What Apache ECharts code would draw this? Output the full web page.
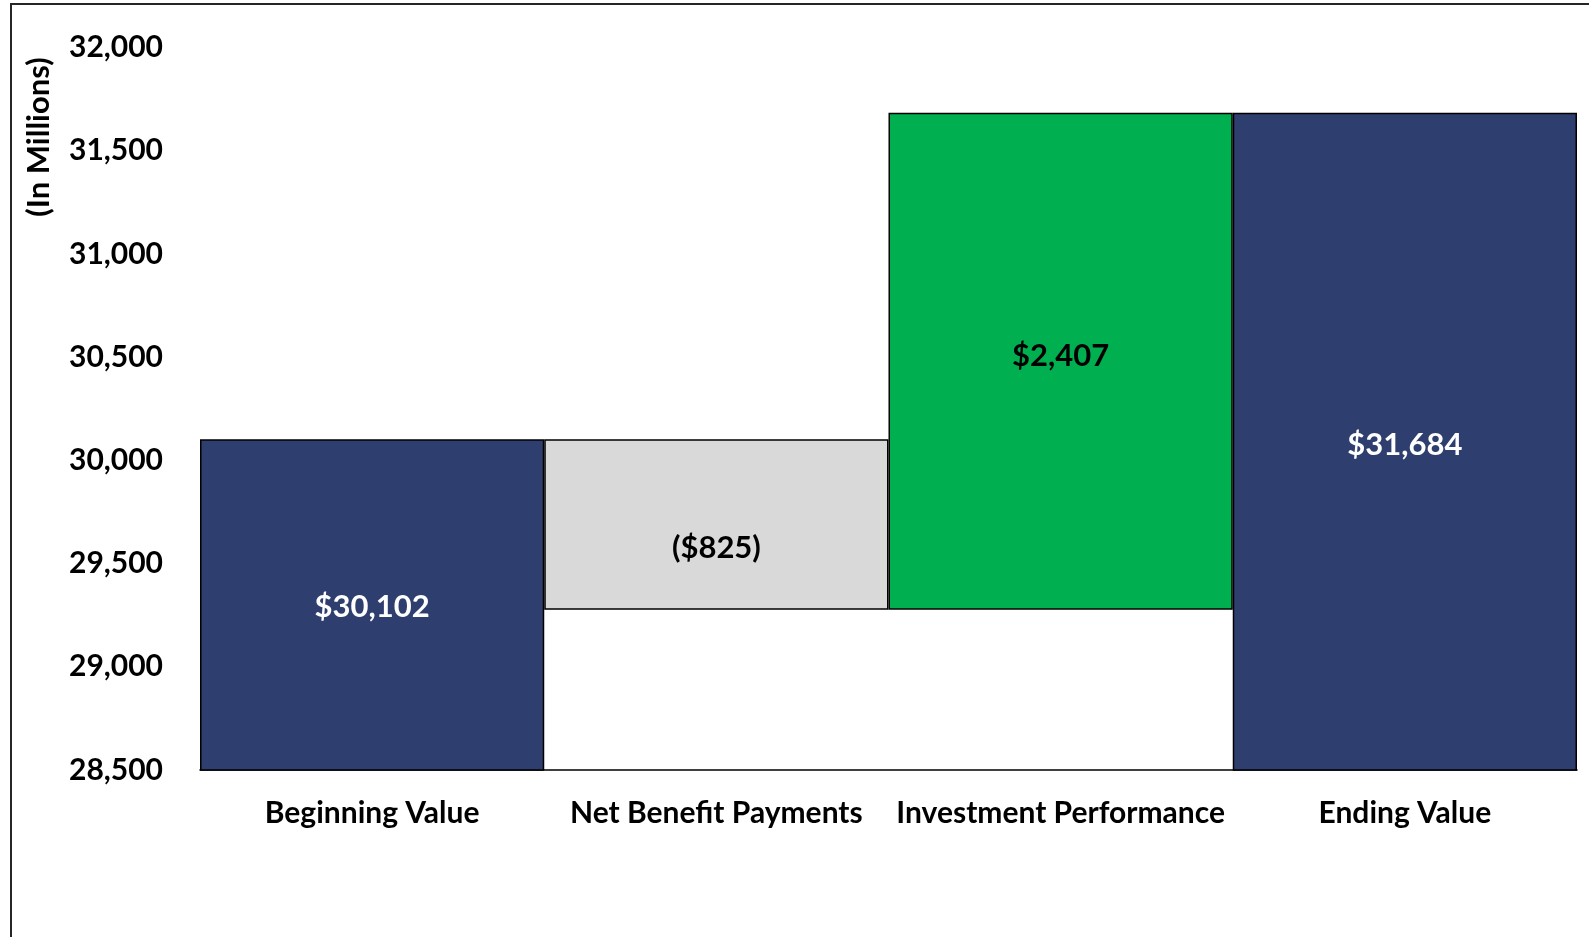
<!DOCTYPE html>
<html>
<head>
<meta charset="utf-8">
<script src="https://cdn.jsdelivr.net/npm/echarts@6/dist/echarts.min.js"></script>
<style>
html,body{margin:0;padding:0;background:#fff;}
#chart{width:1589px;height:937px;}
</style>
</head>
<body>
<div id="chart"></div>
<script>
// ---- data ----
const categories = ['Beginning Value', 'Net Benefit Payments', 'Investment Performance', 'Ending Value'];
const beginningValue = 30102;
const netBenefitPayments = -825;
const investmentPerformance = 2407;
const endingValue = 31684;
const yTicks = [28500, 29000, 29500, 30000, 30500, 31000, 31500, 32000];
const yTitle = '(In Millions)';

// ---- waterfall construction ----
const afterPayments = beginningValue + netBenefitPayments;
const baseData = [0, afterPayments, afterPayments, 0];
const barData = [beginningValue, Math.abs(netBenefitPayments), investmentPerformance, endingValue];
const signedValues = [beginningValue, netBenefitPayments, investmentPerformance, endingValue];

const colors = ['#2E3F6F', '#D9D9D9', '#00B050', '#2E3F6F'];
const labelColors = ['#FFFFFF', '#000000', '#000000', '#FFFFFF'];
const labelOffsets = [[0, 2], [0, 24], [0, -5], [0, 3]];

function fmt(v) {
  const s = '$' + Math.abs(v).toLocaleString('en-US');
  return v < 0 ? '(' + s + ')' : s;
}

const FONT = 'Lato';
const chart = echarts.init(document.getElementById('chart'));
chart.setOption({
  animation: false,
  backgroundColor: '#ffffff',
  grid: { left: 200, right: 12, top: 47.6, bottom: 167, containLabel: false },
  graphic: [
    {
      type: 'rect',
      shape: { x: 11, y: 4, width: 3000, height: 3000 },
      style: { fill: 'none', stroke: '#262626', lineWidth: 2 },
      silent: true, z: 100
    },
    {
      type: 'text',
      x: 39, y: 137,
      rotation: Math.PI / 2,
      style: {
        text: yTitle,
        fill: '#000000',
        font: 'bold 31px Lato',
        align: 'center',
        verticalAlign: 'middle'
      },
      silent: true
    }
  ],
  xAxis: {
    type: 'category',
    data: categories,
    axisLine: { show: true, lineStyle: { color: '#000000', width: 1.5 } },
    axisTick: { show: false },
    axisLabel: { interval: 0, color: '#000000', fontFamily: FONT, fontWeight: 'bold', fontSize: 30, margin: 28 },
    splitLine: { show: false }
  },
  yAxis: {
    type: 'value',
    min: yTicks[0],
    max: yTicks[yTicks.length - 1],
    interval: yTicks[1] - yTicks[0],
    axisLine: { show: false },
    axisTick: { show: false },
    splitLine: { show: false },
    axisLabel: {
      color: '#000000', fontFamily: FONT, fontWeight: 'bold', fontSize: 30, margin: 37,
      formatter: v => v.toLocaleString('en-US')
    }
  },
  series: [
    {
      name: 'base',
      type: 'bar',
      stack: 'wf',
      barCategoryGap: 0,
      itemStyle: { color: 'transparent', borderWidth: 0 },
      data: baseData,
      silent: true
    },
    {
      name: 'value',
      type: 'bar',
      stack: 'wf',
      barCategoryGap: 0,
      data: barData.map((v, i) => ({
        value: v,
        itemStyle: { color: colors[i], borderColor: '#000000', borderWidth: 1.5 },
        label: {
          show: true,
          position: 'inside',
          offset: labelOffsets[i],
          color: labelColors[i],
          fontFamily: FONT,
          fontWeight: 'bold',
          fontSize: 31,
          formatter: () => fmt(signedValues[i])
        }
      }))
    }
  ]
});
</script>
</body>
</html>
